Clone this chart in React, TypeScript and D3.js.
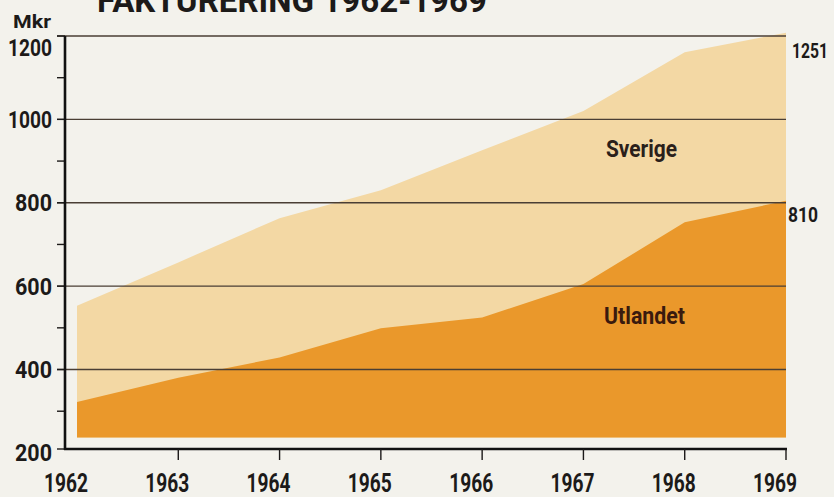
import React from "react";
import * as d3 from "d3";

const years = [1962, 1963, 1964, 1965, 1966, 1967, 1968, 1969];
const totalValues = [553, 657, 763, 830, 926, 1020, 1161, 1208];
const utlandetValues = [322, 380, 429, 499, 525, 605, 753, 805];
const baseValue = 237;
const yTicks = [200, 400, 600, 800, 1000, 1200];
const minorTicks = [300, 500, 700, 900, 1100];
const endLabels = ["1251", "810"];
const seriesNames = ["Sverige", "Utlandet"];
const title = "FAKTURERING 1962-1969";
const unit = "Mkr";

const W = 834;
const H = 497;
const BG = "#f3f2ec";
const LIGHT = "#f3d8a4";
const ORANGE = "#ea982b";
const GRID = "#4a3e34";
const INK = "#1c1a19";
const FONT = "Roboto, 'Liberation Sans', sans-serif";

export default function App() {
  const x = d3.scaleLinear().domain([1962, 1969]).range([77, 786]);
  const y = d3.scaleLinear().domain([200, 1200]).range([452.9, 36]);
  const axisY = 449;
  const axisX = 65;

  const area = d3
    .area<number>()
    .x((_, i) => x(years[i]))
    .y0(() => y(baseValue))
    .y1((d) => y(d));

  const last = years.length - 1;

  return (
    <svg
      width={W}
      height={H}
      viewBox={`0 0 ${W} ${H}`}
      style={{ position: "absolute", left: 0, top: 0, display: "block" }}
    >
      <rect x={0} y={0} width={W} height={H} fill={BG} />

      {/* title (cut at top, as in the reference) */}
      <text
        x={97}
        y={12}
        fontFamily={FONT}
        fontWeight={700}
        fontSize={34}
        fill={INK}
        textLength={390}
        lengthAdjust="spacingAndGlyphs"
      >
        {title}
      </text>

      {/* areas */}
      <path d={area(totalValues) || ""} fill={LIGHT} />
      <path d={area(utlandetValues) || ""} fill={ORANGE} />

      {/* gridlines */}
      {yTicks
        .filter((t) => t > 200)
        .map((t) => (
          <line
            key={"g" + t}
            x1={57}
            x2={786}
            y1={y(t)}
            y2={y(t)}
            stroke={GRID}
            strokeWidth={1.4}
          />
        ))}

      {/* y ticks */}
      {yTicks.concat(minorTicks).map((t) => (
        <line
          key={"t" + t}
          x1={57}
          x2={axisX}
          y1={t === 200 ? axisY : y(t)}
          y2={t === 200 ? axisY : y(t)}
          stroke={INK}
          strokeWidth={1.4}
        />
      ))}

      {/* axes */}
      <line x1={axisX} x2={axisX} y1={y(1200)} y2={axisY + 1} stroke="#111" strokeWidth={2.6} />
      <line x1={axisX - 1} x2={787} y1={axisY} y2={axisY} stroke="#111" strokeWidth={2.6} />

      {/* x ticks */}
      {years.slice(1).map((yr) => (
        <line
          key={"xt" + yr}
          x1={x(yr)}
          x2={x(yr)}
          y1={axisY}
          y2={460}
          stroke={INK}
          strokeWidth={1.4}
        />
      ))}

      {/* y labels */}
      {yTicks.map((t) => (
        <text
          key={"yl" + t}
          x={52}
          y={t === 1200 ? 56 : y(t) + 8.5}
          textAnchor="end"
          fontFamily={FONT}
          fontWeight={700}
          fontSize={23}
          fill={INK}
          textLength={String(t).length === 4 ? 44 : 37}
          lengthAdjust="spacingAndGlyphs"
        >
          {t}
        </text>
      ))}

      <text
        x={13}
        y={28}
        fontFamily={FONT}
        fontWeight={700}
        fontSize={18}
        fill={INK}
        textLength={38}
        lengthAdjust="spacingAndGlyphs"
      >
        {unit}
      </text>

      {/* x labels */}
      {years.map((yr) => (
        <text
          key={"xl" + yr}
          x={x(yr) - 33}
          y={492}
          fontFamily={FONT}
          fontWeight={700}
          fontSize={25}
          fill={INK}
          textLength={44}
          lengthAdjust="spacingAndGlyphs"
        >
          {yr}
        </text>
      ))}

      {/* series labels */}
      <text
        x={606}
        y={157}
        fontFamily={FONT}
        fontWeight={700}
        fontSize={23}
        fill="#2a201a"
        textLength={71}
        lengthAdjust="spacingAndGlyphs"
      >
        {seriesNames[0]}
      </text>
      <text
        x={604}
        y={324}
        fontFamily={FONT}
        fontWeight={700}
        fontSize={23}
        fill="#3a1a0e"
        textLength={81}
        lengthAdjust="spacingAndGlyphs"
      >
        {seriesNames[1]}
      </text>

      {/* end values */}
      <text
        x={x(years[last]) + 6}
        y={58}
        fontFamily={FONT}
        fontWeight={700}
        fontSize={21}
        fill={INK}
        textLength={36}
        lengthAdjust="spacingAndGlyphs"
      >
        {endLabels[0]}
      </text>
      <text
        x={x(years[last]) + 2}
        y={222}
        fontFamily={FONT}
        fontWeight={700}
        fontSize={21}
        fill={INK}
        textLength={30}
        lengthAdjust="spacingAndGlyphs"
      >
        {endLabels[1]}
      </text>
    </svg>
  );
}
